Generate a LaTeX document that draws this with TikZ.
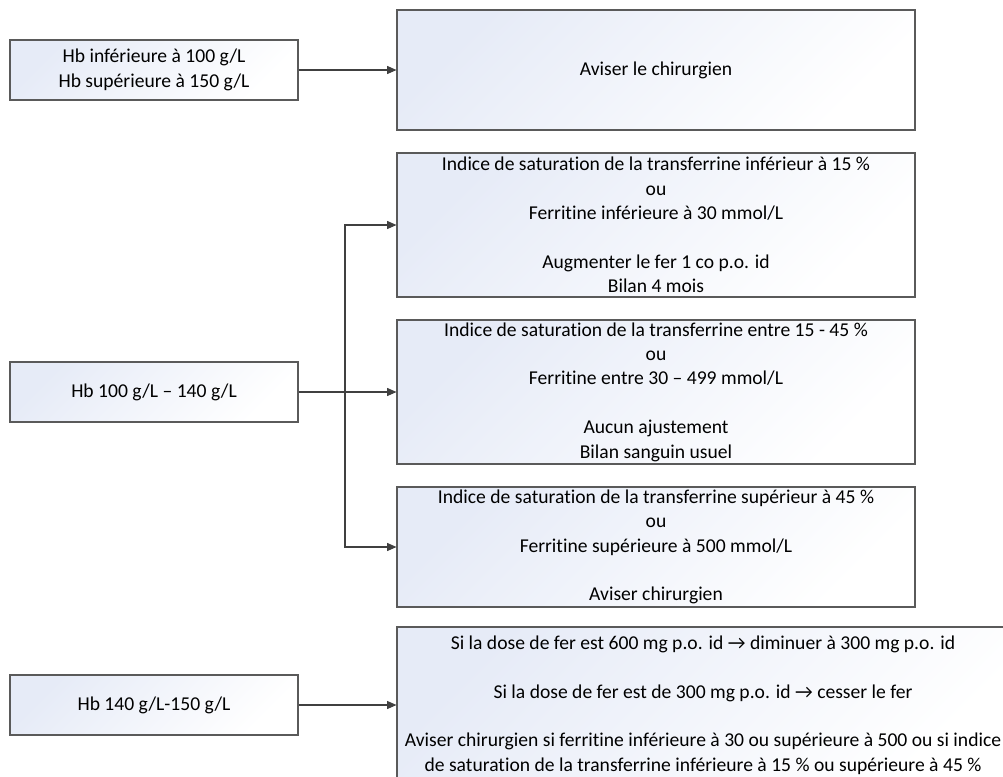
\documentclass[tikz,border=0pt]{standalone}
\usepackage{fontspec}
\setmainfont{Carlito}[Ligatures=NoCommon]
\usetikzlibrary{positioning,arrows.meta}

\definecolor{boxtint}{RGB}{230,235,247}
\definecolor{boxline}{RGB}{90,90,90}

\begin{document}
\begin{tikzpicture}[x=0.75pt,y=-0.75pt,
    box/.style={draw=boxline,line width=0.8pt,top color=boxtint,bottom color=white,
        shading angle=45,align=center,inner sep=0pt,
        font=\fontsize{14.7}{18.3}\selectfont},
    hbbox/.style={box,minimum width=216pt,minimum height=45pt},
    wide/.style={box,minimum width=388.5pt},
    link/.style={draw=black!75,line width=0.8pt,-{Triangle[length=7pt,width=6pt]}}]
    \useasboundingbox (0,0) rectangle (1003,776);
    \clip (0,0) rectangle (1003,776);
    % colonne de gauche
    \node[hbbox] (hbhors) at (154,70) {Hb inférieure à 100 g/L\\Hb supérieure à 150 g/L};
    \node[hbbox] (hbmoyen) at (154,392) {Hb 100 g/L – 140 g/L};
    \node[hbbox] (hbhaut) at (154,705) {Hb 140 g/L-150 g/L};
    % colonne de droite
    \node[wide,minimum height=90pt] (chir) at (656,70) {Aviser le chirurgien};
    \node[wide,minimum height=108pt] (satbas) at (656,225)
        {Indice de saturation de la transferrine inférieur à 15 \%\\ou\\Ferritine inférieure à 30 mmol/L\\[18.3pt]Augmenter le fer 1 co p.o. id\\Bilan 4 mois};
    \node[wide,minimum height=108pt] (satmoy) at (656,392)
        {Indice de saturation de la transferrine entre 15 - 45 \%\\ou\\Ferritine entre 30 – 499 mmol/L\\[18.3pt]Aucun ajustement\\Bilan sanguin usuel};
    \node[wide,minimum height=90pt] (sathaut) at (656,547)
        {Indice de saturation de la transferrine supérieur à 45 \%\\ou\\Ferritine supérieure à 500 mmol/L\\[18.3pt]Aviser chirurgien};
    \node[box,minimum width=459pt,minimum height=117pt] (dose) at (703,705)
        {Si la dose de fer est 600 mg p.o. id → diminuer à 300 mg p.o. id\\[18.3pt]Si la dose de fer est de 300 mg p.o. id → cesser le fer\\[18.3pt]Aviser chirurgien si ferritine inférieure à 30 ou supérieure à 500 ou si indice\\de saturation de la transferrine inférieure à 15 \% ou supérieure à 45 \%};
    % fleches
    \coordinate (fourche) at (345,392);
    \draw[link] (hbhors) -- (chir);
    \draw[link] (hbmoyen) -- (satmoy);
    \draw[link] (fourche) |- (satbas.west);
    \draw[link] (fourche) |- (sathaut.west);
    \draw[link] (hbhaut) -- (hbhaut -| dose.west);
\end{tikzpicture}
\end{document}
